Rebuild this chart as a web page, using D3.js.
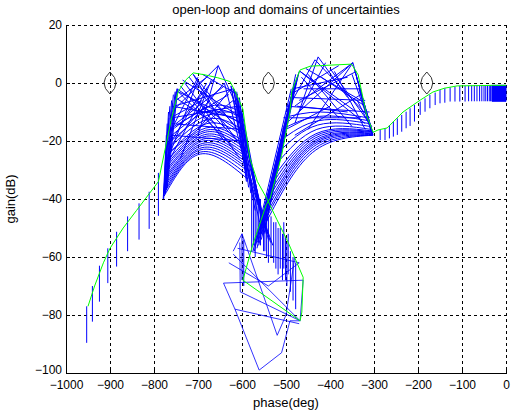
<!DOCTYPE html>
<html><head><meta charset="utf-8">
<script src="https://cdn.jsdelivr.net/npm/d3@7"></script>
<style>body{margin:0;background:#fff} svg{display:block} text{font-family:"Liberation Sans",Arial,sans-serif}</style>
</head><body><svg id="c" width="513" height="416"></svg>
<script>
const title = "open-loop and domains of uncertainties";
const xLabel = "phase(deg)", yLabel = "gain(dB)";
const xTicks = [-1000,-900,-800,-700,-600,-500,-400,-300,-200,-100,0];
const yTicks = [-100,-80,-60,-40,-20,0,20];
const criticalPhases = [-900,-540,-180];
const criticalGain = 0;

// nominal open loop (green)
const nominalPhase = [0,-30,-60,-111,-140,-166,-195,-234,-270,-291,-302,-317,-336,-351,-380,-420,-445,-468,-480,-487,-491,-510,-536,-545,-556,-576,-598,-468,-464,-461,-495,-521,-543,-565,-582,-590,-598,-612,-627,-655,-684,-711,-728,-745,-760,-775,-790,-810,-840,-870,-900,-915,-935,-950];
const nominalGain  = [-0.8,-0.8,-0.9,-1.0,-1.8,-3.1,-5.9,-10,-15.5,-16.2,-17,-11,2.8,6.5,6.3,6.0,5.8,4.5,0,-3,-9.9,-25,-39.8,-42,-47,-56,-68,-82,-79,-67,-55,-47,-40,-34,-26,-18,-9,-4,0.5,1.8,2.8,3.5,1,-3,-12,-23,-34,-38,-44,-50,-57,-62,-70,-77];

// vertical templates [phase, top, bottom]
const lowFreqBars = [[-286,-16.2,-19.7],[-275,-15.6,-19.7],[-265,-14.5,-19.1],[-256,-13.3,-18.5],[-247,-12.2,-17.9],[-237,-11,-16.8],[-227,-9.9,-15.6],[-218,-8.7,-14.8],[-208,-7.6,-13.3],[-195,-6.4,-11],[-184,-5.3,-9.9],[-173,-4.1,-8.7],[-161,-3.3,-7.6],[-150,-2.4,-7],[-139,-1.8,-6.8],[-127,-1.5,-6.4],[-116,-1.3,-6.4],[-105,-1.0,-6.4],[-93,-0.9,-6.4],[-85,-0.9,-6.3],[-78,-0.9,-6.3],[-72,-0.8,-6.3],[-66,-0.8,-6.3],[-60,-0.8,-6.3],[-55,-0.8,-6.3],[-50,-0.8,-6.3],[-46,-0.8,-6.3],[-42,-0.8,-6.3],[-38,-0.8,-6.3],[-35,-0.8,-6.3]];
const lowFreqBlock = [[-32,-0.8],[0,-0.8],[0,-6.3],[-32,-6.3]];
const highFreqBars = [[-953,-77,-89.6],[-940,-70,-82.3],[-924,-63,-75.4],[-905,-57,-69],[-885,-51.3,-63.3],[-860,-46,-58],[-834,-41.5,-54],[-811,-37.5,-50.3],[-790,-31,-45.8]];
const bandBars = [[-600,-52,-68],[-596,-54,-70],[-578,-36,-58],[-574,-38,-56],[-570,-40,-60],[-566,-38,-54],[-562,-42,-55],[-558,-40,-56],[-555,-44,-52],[-551,-44,-58],[-548,-42,-58],[-544,-44,-60],[-540,-46,-62],[-534,-46,-60],[-528,-48,-62],[-523,-48,-64],[-518,-50,-66],[-513,-50,-64],[-508,-52,-68],[-505,-48,-64],[-501,-53,-68],[-498,-55,-70],[-495,-52,-66],[-490,-58,-72],[-484,-60,-75],[-478,-62,-78]];

// curved template edges [start, middle, end]
const leftLobeArcs = [
 [[-777,-39],[-695,-24.5],[-588,-33]],[[-777,-38],[-694,-23.8],[-589,-31.5]],[[-776,-37],[-693,-23],[-590,-30]],
 [[-776,-36],[-691,-22.3],[-591,-29]],[[-775,-35],[-690,-21.5],[-592,-28]],[[-775,-34],[-689,-20.8],[-593,-27]],
 [[-774,-33],[-688,-20],[-594,-26]],[[-773,-32],[-687,-19.3],[-595,-25]],[[-773,-31],[-686,-18.5],[-596,-24]],
 [[-772,-30],[-685,-17.8],[-596,-23]],[[-772,-29],[-684,-17],[-597,-22]],[[-771,-28],[-683,-16.3],[-597,-21]],
 [[-771,-27],[-682,-15.5],[-598,-20]],[[-770,-25],[-680,-14],[-599,-18]],[[-769,-23],[-678,-12.5],[-600,-16]],
 [[-768,-21],[-676,-11],[-601,-14]],[[-767,-19],[-674,-9.5],[-602,-12]],[[-766,-17],[-672,-8],[-603,-10]]];
const rightLobeArcs = [
 [[-545,-48],[-440,-24],[-303,-18]],[[-543,-46],[-439,-23],[-303,-18]],[[-540,-44],[-438,-22],[-303,-18]],
 [[-538,-42],[-437,-21.2],[-304,-17.8]],[[-535,-40],[-436,-20.5],[-304,-17.5]],[[-533,-38],[-435,-19.8],[-304,-17.3]],
 [[-530,-36],[-434,-19],[-305,-17]],[[-528,-34],[-433,-18.2],[-305,-16.8]],[[-526,-32],[-432,-17.5],[-306,-16.5]],
 [[-522,-28],[-430,-16],[-307,-16]],[[-518,-24],[-428,-14.5],[-308,-15]],[[-514,-20],[-426,-13],[-310,-14]],
 [[-510,-16],[-424,-11.5],[-312,-13]],[[-506,-12],[-422,-10],[-314,-12]]];

// straight template edges [phase1, gain1, phase2, gain2]
const leftLobeLines = [
 [-778,-40,-770,-14],[-777,-39,-767,-10],[-776,-38,-764,-8],[-775,-38,-760,-6],[-774,-37,-756,-4],[-773,-36,-752,-3],[-772,-35,-748,-2],[-776,-36,-772,-18],[-775,-35,-770,-20],
 [-779,-40,-773,-22],[-778,-39,-769,-16],[-777,-38,-766,-12],[-774,-38,-758,-7],[-772,-37,-750,-3],[-770,-36,-746,-2],
 [-745,-3,-600,-14],[-745,-3,-620,-22],[-740,-1,-640,-20],[-760,-10,-654,6],[-654,6,-600,-12],[-654,6,-700,-18],[-711,3,-600,-18],[-711,3,-640,-15],[-700,2,-760,-16],[-690,3,-610,-4],
 [-760,-14,-600,-16],[-762,-18,-600,-20],[-758,-12,-610,-8],[-755,-8,-620,-2],[-750,-6,-680,2],[-765,-22,-640,0],[-765,-24,-620,-6],[-770,-28,-680,-2],[-768,-26,-700,1],
 [-720,2,-600,-22],[-730,0,-605,-26],[-680,0,-760,-20],[-670,1,-740,-26],[-640,-1,-750,-14],[-625,-2,-700,-16],[-700,-10,-600,-10],
 [-760,-8,-610,-12],[-748,-2,-612,-16],[-735,1,-600,-12],[-752,-5,-660,-14],[-766,-16,-630,-4],[-762,-12,-690,-6],[-705,0,-620,-14],[-660,2,-735,-12],[-700,-6,-610,-20],
 [-640,0,-590,-30],[-625,-1,-592,-28],[-615,-3,-594,-25],[-610,-6,-590,-32],[-605,-10,-588,-32],[-620,-2,-596,-20],
 [-625,-1,-588,-34],[-618,-2,-590,-34],[-612,-3,-585,-36],[-606,-5,-580,-38],
 [-612,-4,-585,-32],[-608,-6,-575,-38],[-604,-8,-565,-42],[-600,-10,-555,-46],[-598,-14,-548,-50],[-596,-18,-542,-52],[-600,-20,-560,-48],[-605,-15,-570,-44],
 [-602,-12,-552,-50],[-598,-16,-545,-52],[-594,-22,-540,-54],[-590,-28,-535,-55],[-586,-32,-530,-56]];
const rightLobeLines = [
 [-470,4,-560,-50],[-475,2,-565,-55],[-480,0,-555,-52],[-485,-3,-550,-48],[-490,-6,-545,-45],[-495,-10,-570,-56],[-488,-2,-575,-58],[-478,3,-540,-44],[-500,-12,-560,-52],[-492,-8,-552,-50],
 [-472,3,-550,-52],[-482,-1,-548,-50],[-487,-4,-556,-54],[-493,-7,-562,-56],[-497,-11,-566,-57],[-503,-14,-572,-58],[-476,1,-545,-48],[-484,-2,-542,-46],
 [-468,4,-340,-10],[-468,4,-320,-14],[-434,8,-310,-12],[-434,8,-500,-10],[-427,9,-360,-5],[-427,9,-480,-14],[-348,7,-480,-8],[-348,7,-450,-16],[-348,7,-500,-14],[-400,5,-305,-15],
 [-380,6,-490,-4],[-460,-2,-330,-2],[-490,-5,-320,-6],[-500,-8,-310,-10],[-495,-12,-330,-12],[-485,-2,-360,2],[-470,-6,-340,4],[-450,3,-350,-15],[-420,2,-320,-8],[-500,-16,-400,-8],[-480,-18,-330,-4],
 [-465,2,-380,-12],[-455,5,-330,-6],[-410,7,-470,-10],[-390,4,-320,-16],[-475,-8,-360,-10],
 [-348,7,-303,-18],[-345,5,-304,-17],[-340,2,-305,-16],[-336,0,-306,-17],[-332,-3,-303,-18],[-350,3,-308,-15],[-338,-6,-302,-17],[-343,4,-302,-18],[-334,-2,-304,-18]];

// high-frequency templates (polygons)
const bottomPolys = [
 [[-642,-69],[-616,-78],[-561,-99],[-510,-93],[-491,-82],[-468,-82]],
 [[-642,-69],[-461,-68],[-468,-82],[-620,-59]],
 [[-620,-58],[-600,-52],[-520,-87],[-500,-80],[-480,-60]],
 [[-605,-55],[-604,-72],[-468,-82]],
 [[-616,-78],[-470,-83]],
 [[-610,-57],[-470,-62],[-540,-70],[-630,-62]]];

const svg = d3.select("#c");
const x = d3.scaleLinear().domain([-1000,0]).range([66,506]);
const y = d3.scaleLinear().domain([-100,20]).range([373,25]);
const blue = "#0000ff", green = "#00ff00";

// grid
const g = svg.append("g").attr("shape-rendering","crispEdges");
g.selectAll(".vx").data(xTicks.slice(1)).join("line")
  .attr("x1",d=>x(d)+0.5).attr("x2",d=>x(d)+0.5).attr("y1",y(20)).attr("y2",y(-100))
  .attr("stroke","#000").attr("stroke-dasharray","3,3");
g.selectAll(".hy").data(yTicks.slice(1)).join("line")
  .attr("y1",d=>y(d)+0.5).attr("y2",d=>y(d)+0.5).attr("x1",x(-1000)).attr("x2",x(0))
  .attr("stroke","#000").attr("stroke-dasharray","3,3");

const P = d3.line().x(d=>x(d[0])).y(d=>y(d[1]));
const C = d3.line().x(d=>x(d[0])).y(d=>y(d[1])).curve(d3.curveNatural);
const marks = svg.append("g").attr("fill","none").attr("stroke",blue).attr("stroke-width",1);

[...lowFreqBars, ...highFreqBars, ...bandBars].forEach(b=>{
  marks.append("path").attr("d",P([[b[0],b[1]],[b[0],b[2]]]));
});
marks.append("path").attr("d",P(lowFreqBlock)+"Z").attr("fill",blue);
[...leftLobeArcs, ...rightLobeArcs].forEach(a=>marks.append("path").attr("d",C(a)));
[...leftLobeLines, ...rightLobeLines].forEach(l=>marks.append("path").attr("d",P([[l[0],l[1]],[l[2],l[3]]])));
bottomPolys.forEach(p=>marks.append("path").attr("d",P(p)).attr("stroke-opacity",0.8));

svg.append("path").attr("d",P(nominalPhase.map((p,i)=>[p,nominalGain[i]])))
  .attr("fill","none").attr("stroke",green).attr("stroke-width",1);

// critical point markers
criticalPhases.forEach(p=>{
  const cx=x(p), cy=y(criticalGain);
  svg.append("path").attr("d",`M${cx},${cy-11}Q${cx+12},${cy} ${cx},${cy+11}Q${cx-12},${cy} ${cx},${cy-11}Z`)
    .attr("fill","none").attr("stroke","#333").attr("stroke-width",1);
});

// axes
const fmt = d3.format("d");
const xa = svg.append("g").attr("transform",`translate(0,${y(-100)})`)
  .call(d3.axisBottom(x).tickValues(xTicks).tickFormat(fmt).tickSizeInner(-4).tickSizeOuter(0).tickPadding(7));
const ya = svg.append("g").attr("transform",`translate(${x(-1000)},0)`)
  .call(d3.axisLeft(y).tickValues(yTicks).tickFormat(fmt).tickSizeInner(-4).tickSizeOuter(0).tickPadding(4));
[xa,ya].forEach(a=>{
  a.attr("shape-rendering","crispEdges");
  a.selectAll("text").attr("font-size",12).attr("fill","#000").attr("font-family","Liberation Sans, Arial, sans-serif");
  a.select(".domain").attr("stroke","#000");
});
ya.selectAll(".tick line").filter(d=>d===20).remove();
ya.selectAll(".tick text").filter(d=>d===-100).attr("dy","0.05em");

svg.append("text").attr("x",286).attr("y",14).attr("text-anchor","middle").attr("font-size",13).text(title);
svg.append("text").attr("x",286).attr("y",407).attr("text-anchor","middle").attr("font-size",13).text(xLabel);
svg.append("text").attr("transform",`translate(15,${y(-40)}) rotate(-90)`).attr("text-anchor","middle").attr("font-size",13).text(yLabel);
</script></body></html>
